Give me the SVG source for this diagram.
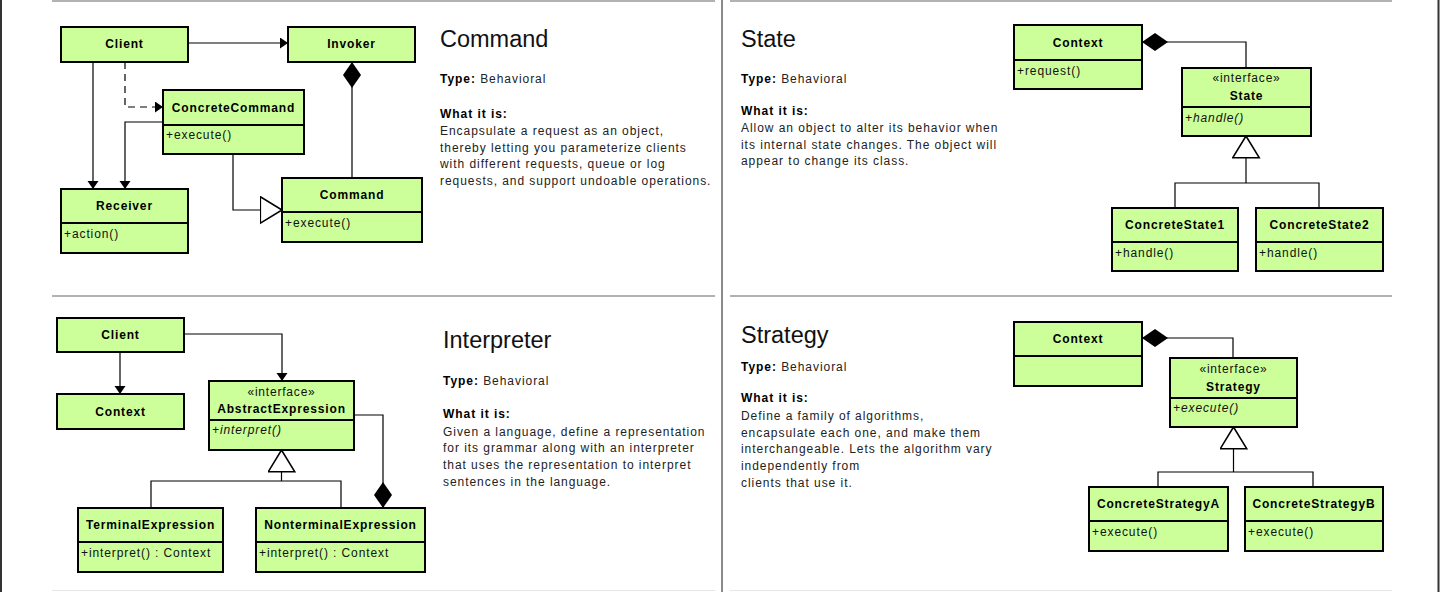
<svg xmlns="http://www.w3.org/2000/svg" width="1443" height="592" viewBox="0 0 1443 592">
<style>
  .bx{fill:#ccff99;stroke:#000;stroke-width:2}
  .dv{stroke:#000;stroke-width:2}
  .t{font-family:"Liberation Sans",Arial,sans-serif;font-size:12px;font-weight:bold;letter-spacing:0.85px;text-anchor:middle;fill:#000}
  .st{font-family:"Liberation Sans",Arial,sans-serif;font-size:12px;letter-spacing:0.8px;text-anchor:middle;fill:#111}
  .m{font-family:"Liberation Sans",Arial,sans-serif;font-size:12px;letter-spacing:0.9px;fill:#111}
  .mi{font-style:italic}
  .c{fill:none;stroke:#000;stroke-width:1.2}
  .dash{stroke-dasharray:7 5}
  .h{font-family:"Liberation Sans",Arial,sans-serif;font-size:23.5px;fill:#111}
  .d{font-family:"Liberation Sans",Arial,sans-serif;font-size:12px;letter-spacing:0.95px;fill:#222}
  .b{font-weight:bold;fill:#000}
  .fr{stroke:#999;stroke-width:1.5}
</style>
<defs>
  <marker id="arr" markerUnits="userSpaceOnUse" markerWidth="9" markerHeight="12" refX="8" refY="5.5" orient="auto">
    <path d="M0,0 L8,5.5 L0,11 z" fill="#000"/>
  </marker>
  <marker id="tri" markerUnits="userSpaceOnUse" markerWidth="24" markerHeight="30" refX="22.5" refY="14" orient="auto">
    <path d="M0.8,0.8 L22.5,14 L0.8,27.2 z" fill="#fff" stroke="#000" stroke-width="1.6"/>
  </marker>
  <marker id="dia" markerUnits="userSpaceOnUse" markerWidth="27" markerHeight="19" refX="0" refY="9" orient="auto">
    <path d="M0,9 L13,0 L26,9 L13,18 z" fill="#000"/>
  </marker>
</defs>
<rect width="1443" height="592" fill="#fff"/>

<g id="frame">
  <line class="fr" x1="52" y1="1" x2="715" y2="1"/>
  <line class="fr" x1="730" y1="1" x2="1392" y2="1"/>
  <line class="fr" x1="52" y1="296" x2="715" y2="296"/>
  <line class="fr" x1="730" y1="296" x2="1392" y2="296"/>
  <line x1="52" y1="590.5" x2="715" y2="590.5" stroke="#e6e6e6" stroke-width="1"/>
  <line x1="730" y1="590.5" x2="1392" y2="590.5" stroke="#e6e6e6" stroke-width="1"/>
  <line x1="722" y1="0" x2="722" y2="592" stroke="#8a8a8a" stroke-width="2"/>
  <line x1="1" y1="0" x2="1" y2="592" stroke="#333" stroke-width="2"/>
  <line x1="1438.5" y1="0" x2="1438.5" y2="592" stroke="#333" stroke-width="2"/>
</g>

<g id="connectors">
  <path class="c" d="M188,43 L288,43" marker-end="url(#arr)"/>
  <path class="c" d="M93,62 L93,189" marker-end="url(#arr)"/>
  <path class="c dash" d="M125,62 L125,107 L163,107" marker-end="url(#arr)"/>
  <path class="c" d="M163,122 L125,122 L125,189" marker-end="url(#arr)"/>
  <path class="c" d="M233,154 L233,210 L282,210" marker-end="url(#tri)"/>
  <path class="c" d="M352,62 L352,178" marker-start="url(#dia)"/>

  <path class="c" d="M120,352 L120,394" marker-end="url(#arr)"/>
  <path class="c" d="M184,334 L282,334 L282,381" marker-end="url(#arr)"/>
  <path class="c" d="M281.5,481 L281.5,450" marker-end="url(#tri)"/>
  <path class="c" d="M151,508 L151,481 L341,481 L341,508"/>
  <path class="c" d="M383,508 L383,415 L354,415" marker-start="url(#dia)"/>

  <path class="c" d="M1142,42 L1246,42 L1246,68" marker-start="url(#dia)"/>
  <path class="c" d="M1246,183 L1246,136" marker-end="url(#tri)"/>
  <path class="c" d="M1175,208 L1175,183 L1319,183 L1319,208"/>

  <path class="c" d="M1142,338 L1233,338 L1233,358" marker-start="url(#dia)"/>
  <path class="c" d="M1233.5,472 L1233.5,427" marker-end="url(#tri)"/>
  <path class="c" d="M1158,487 L1158,472 L1313,472 L1313,487"/>
</g>

<!-- Command pattern -->
<g id="cmd-client"><rect class="bx" x="61" y="27" width="127" height="35"/><text class="t" x="124.5" y="48">Client</text></g>
<g id="cmd-invoker"><rect class="bx" x="288" y="27" width="127" height="35"/><text class="t" x="351.5" y="48">Invoker</text></g>
<g id="cmd-concretecommand"><rect class="bx" x="163" y="90" width="141" height="64"/><line class="dv" x1="163" y1="125" x2="304" y2="125"/><text class="t" x="233.5" y="111.5">ConcreteCommand</text><text class="m" x="166" y="139">+execute()</text></g>
<g id="cmd-receiver"><rect class="bx" x="61" y="189" width="127" height="64"/><line class="dv" x1="61" y1="223" x2="188" y2="223"/><text class="t" x="124.5" y="210.3">Receiver</text><text class="m" x="64" y="237.5">+action()</text></g>
<g id="cmd-command"><rect class="bx" x="282" y="178" width="140" height="64"/><line class="dv" x1="282" y1="212" x2="422" y2="212"/><text class="t" x="352" y="198.8">Command</text><text class="m" x="285" y="226.5">+execute()</text></g>
<g id="cmd-text">
  <text class="h" x="440" y="47">Command</text>
  <text class="d" x="440" y="83"><tspan class="b">Type:</tspan> Behavioral</text>
  <text class="d" x="440" y="118"><tspan class="b">What it is:</tspan><tspan x="440" y="135">Encapsulate a request as an object,</tspan><tspan x="440" y="151.7">thereby letting you parameterize clients</tspan><tspan x="440" y="168.4">with different requests, queue or log</tspan><tspan x="440" y="185.1">requests, and support undoable operations.</tspan></text>
</g>

<!-- Interpreter pattern -->
<g id="int-client"><rect class="bx" x="57" y="318" width="127" height="34"/><text class="t" x="120.5" y="339.3">Client</text></g>
<g id="int-context"><rect class="bx" x="57" y="394" width="127" height="35"/><text class="t" x="120.5" y="415.8">Context</text></g>
<g id="int-abstractexpression"><rect class="bx" x="209" y="381" width="145" height="69"/><line class="dv" x1="209" y1="420" x2="354" y2="420"/><text class="st" x="281.5" y="396">«interface»</text><text class="t" x="281.5" y="412.5">AbstractExpression</text><text class="m mi" x="212" y="434">+interpret()</text></g>
<g id="int-terminal"><rect class="bx" x="78" y="508" width="145" height="64"/><line class="dv" x1="78" y1="542" x2="223" y2="542"/><text class="t" x="150.5" y="529.3">TerminalExpression</text><text class="m" x="81" y="556.5">+interpret() : Context</text></g>
<g id="int-nonterminal"><rect class="bx" x="256" y="508" width="169" height="64"/><line class="dv" x1="256" y1="542" x2="425" y2="542"/><text class="t" x="340.5" y="529.3">NonterminalExpression</text><text class="m" x="259" y="556.5">+interpret() : Context</text></g>
<g id="int-text">
  <text class="h" x="443" y="348">Interpreter</text>
  <text class="d" x="443" y="385"><tspan class="b">Type:</tspan> Behavioral</text>
  <text class="d" x="443" y="418"><tspan class="b">What it is:</tspan><tspan x="443" y="435.5">Given a language, define a representation</tspan><tspan x="443" y="452.2">for its grammar along with an interpreter</tspan><tspan x="443" y="468.9">that uses the representation to interpret</tspan><tspan x="443" y="485.6">sentences in the language.</tspan></text>
</g>

<!-- State pattern -->
<g id="st-context"><rect class="bx" x="1014" y="25" width="128" height="64"/><line class="dv" x1="1014" y1="60" x2="1142" y2="60"/><text class="t" x="1078" y="46.8">Context</text><text class="m" x="1017" y="74.5">+request()</text></g>
<g id="st-state"><rect class="bx" x="1182" y="68" width="129" height="68"/><line class="dv" x1="1182" y1="107" x2="1311" y2="107"/><text class="st" x="1246.5" y="82">«interface»</text><text class="t" x="1246.5" y="99.5">State</text><text class="m mi" x="1185" y="121.5">+handle()</text></g>
<g id="st-cs1"><rect class="bx" x="1112" y="208" width="126" height="63"/><line class="dv" x1="1112" y1="242" x2="1238" y2="242"/><text class="t" x="1175" y="229.3">ConcreteState1</text><text class="m" x="1115" y="256.5">+handle()</text></g>
<g id="st-cs2"><rect class="bx" x="1256" y="208" width="127" height="63"/><line class="dv" x1="1256" y1="242" x2="1383" y2="242"/><text class="t" x="1319.5" y="229.3">ConcreteState2</text><text class="m" x="1259" y="256.5">+handle()</text></g>
<g id="st-text">
  <text class="h" x="741" y="47">State</text>
  <text class="d" x="741" y="82.5"><tspan class="b">Type:</tspan> Behavioral</text>
  <text class="d" x="741" y="115"><tspan class="b">What it is:</tspan><tspan x="741" y="132">Allow an object to alter its behavior when</tspan><tspan x="741" y="148.7">its internal state changes. The object will</tspan><tspan x="741" y="165.4">appear to change its class.</tspan></text>
</g>

<!-- Strategy pattern -->
<g id="sg-context"><rect class="bx" x="1014" y="322" width="128" height="64"/><line class="dv" x1="1014" y1="356" x2="1142" y2="356"/><text class="t" x="1078" y="343.3">Context</text></g>
<g id="sg-strategy"><rect class="bx" x="1170" y="358" width="127" height="69"/><line class="dv" x1="1170" y1="398" x2="1297" y2="398"/><text class="st" x="1233.5" y="373">«interface»</text><text class="t" x="1233.5" y="390.5">Strategy</text><text class="m mi" x="1173" y="411.5">+execute()</text></g>
<g id="sg-csa"><rect class="bx" x="1089" y="487" width="139" height="64"/><line class="dv" x1="1089" y1="521" x2="1228" y2="521"/><text class="t" x="1158.5" y="508.3">ConcreteStrategyA</text><text class="m" x="1092" y="535.5">+execute()</text></g>
<g id="sg-csb"><rect class="bx" x="1245" y="487" width="138" height="64"/><line class="dv" x1="1245" y1="521" x2="1383" y2="521"/><text class="t" x="1314" y="508.3">ConcreteStrategyB</text><text class="m" x="1248" y="535.5">+execute()</text></g>
<g id="sg-text">
  <text class="h" x="741" y="343">Strategy</text>
  <text class="d" x="741" y="371"><tspan class="b">Type:</tspan> Behavioral</text>
  <text class="d" x="741" y="402"><tspan class="b">What it is:</tspan><tspan x="741" y="420">Define a family of algorithms,</tspan><tspan x="741" y="436.7">encapsulate each one, and make them</tspan><tspan x="741" y="453.4">interchangeable. Lets the algorithm vary</tspan><tspan x="741" y="470.1">independently from</tspan><tspan x="741" y="486.8">clients that use it.</tspan></text>
</g>
</svg>
